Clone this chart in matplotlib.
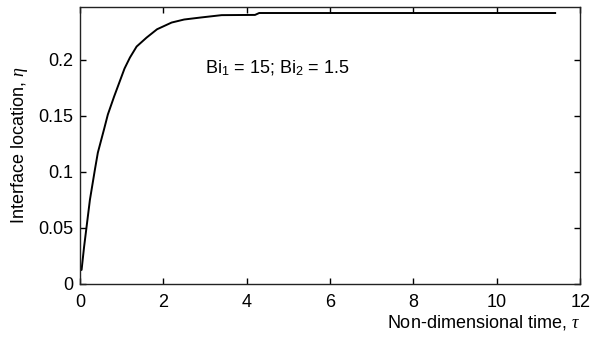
import matplotlib
matplotlib.use("Agg")
import matplotlib.pyplot as plt

# Curve (non-dimensional time, interface location).
TAU = [0.0, 0.0, 0.04, 0.10, 0.17, 0.24, 0.36, 0.43, 0.58, 0.67, 0.82, 0.96,
       1.07, 1.20, 1.36, 1.60, 1.85, 2.20, 2.50, 2.90, 3.40, 4.20, 4.30, 11.4]
ETA = [0.0, 0.012, 0.0125, 0.033, 0.054, 0.075, 0.102, 0.117, 0.138, 0.151,
       0.167, 0.181, 0.192, 0.2018, 0.2116, 0.2196, 0.227, 0.233, 0.2357,
       0.2375, 0.2396, 0.2398, 0.2415, 0.2415]

X_TICKS = [0, 2, 4, 6, 8, 10, 12]
Y_TICKS = [0, 0.05, 0.1, 0.15, 0.2]
Y_TICK_LABELS = ["0", "0.05", "0.1", "0.15", "0.2"]

plt.rcParams.update(
    {
        "font.family": ["Liberation Sans", "DejaVu Sans"],
        "font.size": 13,
        "mathtext.fontset": "custom",
        "mathtext.rm": "Liberation Sans",
        "mathtext.it": "Liberation Serif:italic",
        "mathtext.cal": "Liberation Serif:italic",
    }
)

fig = plt.figure(figsize=(5.92, 3.42), dpi=100)
ax = fig.add_axes([0.135, 0.170, 0.845, 0.810])

ax.plot(TAU, ETA, color="black", linewidth=1.4)

ax.set_xlim(0, 12)
ax.set_ylim(0, 0.247)
ax.set_xticks(X_TICKS)
ax.set_yticks(Y_TICKS)
ax.set_yticklabels(Y_TICK_LABELS)
ax.tick_params(direction="in", length=4, width=1, top=True, right=True,
               labelsize=13, colors="black")
ax.tick_params(axis="x", pad=7)
ax.tick_params(axis="y", pad=5)
for spine in ax.spines.values():
    spine.set_linewidth(1.0)
    spine.set_color("#222222")

ax.set_xlabel(r"Non-dimensional time, $\tau$", fontsize=13, loc="right", labelpad=2)
ax.set_ylabel(r"Interface location, $\eta$", fontsize=13, labelpad=6)

ax.text(3.0, 0.192, r"Bi$_1$ = 15; Bi$_2$ = 1.5", fontsize=13, va="center")

fig.savefig("out.png", dpi=100)
